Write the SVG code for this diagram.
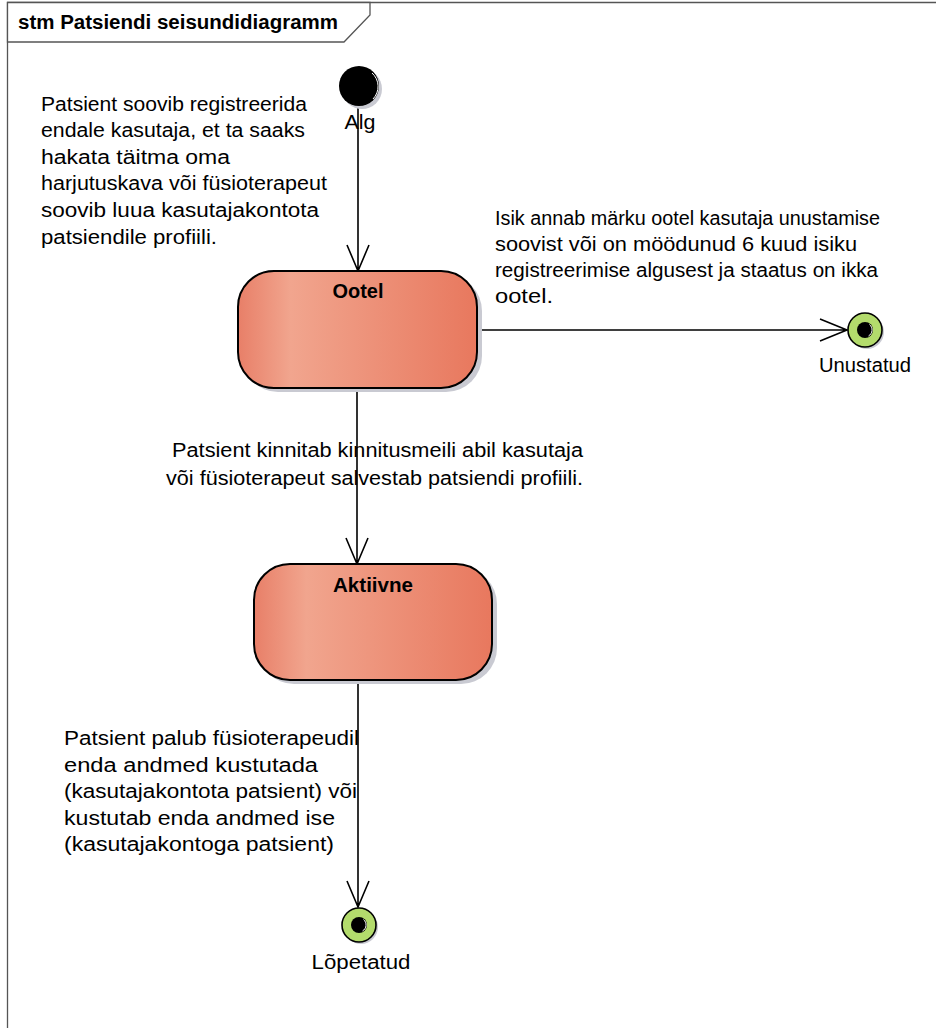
<svg xmlns="http://www.w3.org/2000/svg" width="936" height="1028" viewBox="0 0 936 1028">
  <defs>
    <linearGradient id="stateFill" x1="0" y1="0" x2="1" y2="0">
      <stop offset="0" stop-color="#e87f68"/>
      <stop offset="0.22" stop-color="#f1a58e"/>
      <stop offset="1" stop-color="#e8785e"/>
    </linearGradient>
    <style>
      .txt { font-family: "Liberation Sans", Arial, sans-serif; font-size: 20px; fill: #000; }
      .bold { font-weight: bold; }
      .mid { text-anchor: middle; }
      .frame { fill: #fff; stroke: #555; stroke-width: 1.3; }
      .state { fill: url(#stateFill); stroke: #000; stroke-width: 2; }
      .shadow { fill: #c9cad2; }
      .edge { fill: none; stroke: #000; stroke-width: 1.6; }
      .final { fill: #b3db6c; stroke: #000; stroke-width: 1.6; }
    </style>
  </defs>

  <rect width="936" height="1028" fill="#fff"/>

  <!-- diagram frame with name tab -->
  <g id="frame">
    <path class="frame" d="M7.5,1030 V2.5 H940"/>
    <path class="frame" d="M7.5,2.5 H370 V15 L344,42 H7.5 Z"/>
    <text class="txt bold" x="18" y="29" font-size="18" textLength="320" lengthAdjust="spacingAndGlyphs">stm Patsiendi seisundidiagramm</text>
  </g>

  <!-- transitions -->
  <g id="connectors">
    <path class="edge" d="M358,106 V271 M347,245 L358,271 L369,245"/>
    <path class="edge" d="M477,330 H847 M820,319 L847,330 L820,341"/>
    <path class="edge" d="M357,388 V564 M346,538 L357,564 L368,538"/>
    <path class="edge" d="M358,680 V907 M347,881 L358,907 L369,881"/>
  </g>

  <!-- initial pseudostate -->
  <g id="Alg">
    <circle cx="362" cy="89" r="20" class="shadow"/>
    <circle cx="359" cy="86" r="20" fill="#000"/>
    <path d="M372,73 A18,18 0 0 1 373,99" fill="none" stroke="#fff" stroke-width="1"/>
    <text class="txt mid" x="360" y="129" textLength="31" lengthAdjust="spacingAndGlyphs">Alg</text>
  </g>

  <!-- state Ootel -->
  <g id="Ootel">
    <rect x="242" y="275" width="240" height="117" rx="36" class="shadow"/>
    <rect x="238" y="271" width="239" height="117" rx="36" class="state"/>
    <text class="txt bold mid" x="358" y="298" font-size="19" textLength="51" lengthAdjust="spacingAndGlyphs">Ootel</text>
  </g>

  <!-- state Aktiivne -->
  <g id="Aktiivne">
    <rect x="258" y="568" width="239" height="116" rx="36" class="shadow"/>
    <rect x="254" y="564" width="238" height="116" rx="36" class="state"/>
    <text class="txt bold mid" x="373" y="592" font-size="19" textLength="80" lengthAdjust="spacingAndGlyphs">Aktiivne</text>
  </g>

  <!-- final state Unustatud -->
  <g id="Unustatud">
    <circle cx="867" cy="332" r="17" class="shadow"/>
    <circle cx="865" cy="330" r="17" class="final"/>
    <circle cx="865" cy="330" r="8" fill="#000"/>
    <path d="M869.5,324.5 A7,7 0 0 1 868.5,336" fill="none" stroke="#fff" stroke-width="1"/>
    <text class="txt mid" x="865" y="372" textLength="92" lengthAdjust="spacingAndGlyphs">Unustatud</text>
  </g>

  <!-- final state Lõpetatud -->
  <g id="Lopetatud">
    <circle cx="361" cy="927" r="17" class="shadow"/>
    <circle cx="359" cy="925" r="17" class="final"/>
    <circle cx="359" cy="925" r="8" fill="#000"/>
    <path d="M363.5,919.5 A7,7 0 0 1 362.5,931" fill="none" stroke="#fff" stroke-width="1"/>
    <text class="txt mid" x="361" y="969" textLength="99" lengthAdjust="spacingAndGlyphs">Lõpetatud</text>
  </g>

  <!-- transition labels -->
  <g id="label-alg-ootel">
    <text class="txt" x="41" y="111" textLength="266" lengthAdjust="spacingAndGlyphs">Patsient soovib registreerida</text>
    <text class="txt" x="41" y="137" textLength="264" lengthAdjust="spacingAndGlyphs">endale kasutaja, et ta saaks</text>
    <text class="txt" x="41" y="164" textLength="189" lengthAdjust="spacingAndGlyphs">hakata täitma oma</text>
    <text class="txt" x="41" y="190" textLength="286" lengthAdjust="spacingAndGlyphs">harjutuskava või füsioterapeut</text>
    <text class="txt" x="41" y="217" textLength="278" lengthAdjust="spacingAndGlyphs">soovib luua kasutajakontota</text>
    <text class="txt" x="41" y="244" textLength="176" lengthAdjust="spacingAndGlyphs">patsiendile profiili.</text>
  </g>

  <g id="label-ootel-unustatud">
    <text class="txt" x="495" y="225" textLength="385" lengthAdjust="spacingAndGlyphs">Isik annab märku ootel kasutaja unustamise</text>
    <text class="txt" x="495" y="251" textLength="362" lengthAdjust="spacingAndGlyphs">soovist või on möödunud 6 kuud isiku</text>
    <text class="txt" x="495" y="277" textLength="383" lengthAdjust="spacingAndGlyphs">registreerimise algusest ja staatus on ikka</text>
    <text class="txt" x="495" y="303" textLength="58" lengthAdjust="spacingAndGlyphs">ootel.</text>
  </g>

  <g id="label-ootel-aktiivne">
    <text class="txt" x="172" y="457" textLength="411" lengthAdjust="spacingAndGlyphs">Patsient kinnitab kinnitusmeili abil kasutaja</text>
    <text class="txt" x="166" y="485" textLength="417" lengthAdjust="spacingAndGlyphs">või füsioterapeut salvestab patsiendi profiili.</text>
  </g>

  <g id="label-aktiivne-lopetatud">
    <text class="txt" x="64" y="745" textLength="295" lengthAdjust="spacingAndGlyphs">Patsient palub füsioterapeudil</text>
    <text class="txt" x="64" y="772" textLength="254" lengthAdjust="spacingAndGlyphs">enda andmed kustutada</text>
    <text class="txt" x="64" y="798" textLength="293" lengthAdjust="spacingAndGlyphs">(kasutajakontota patsient) või</text>
    <text class="txt" x="64" y="825" textLength="271" lengthAdjust="spacingAndGlyphs">kustutab enda andmed ise</text>
    <text class="txt" x="64" y="851" textLength="270" lengthAdjust="spacingAndGlyphs">(kasutajakontoga patsient)</text>
  </g>
</svg>
